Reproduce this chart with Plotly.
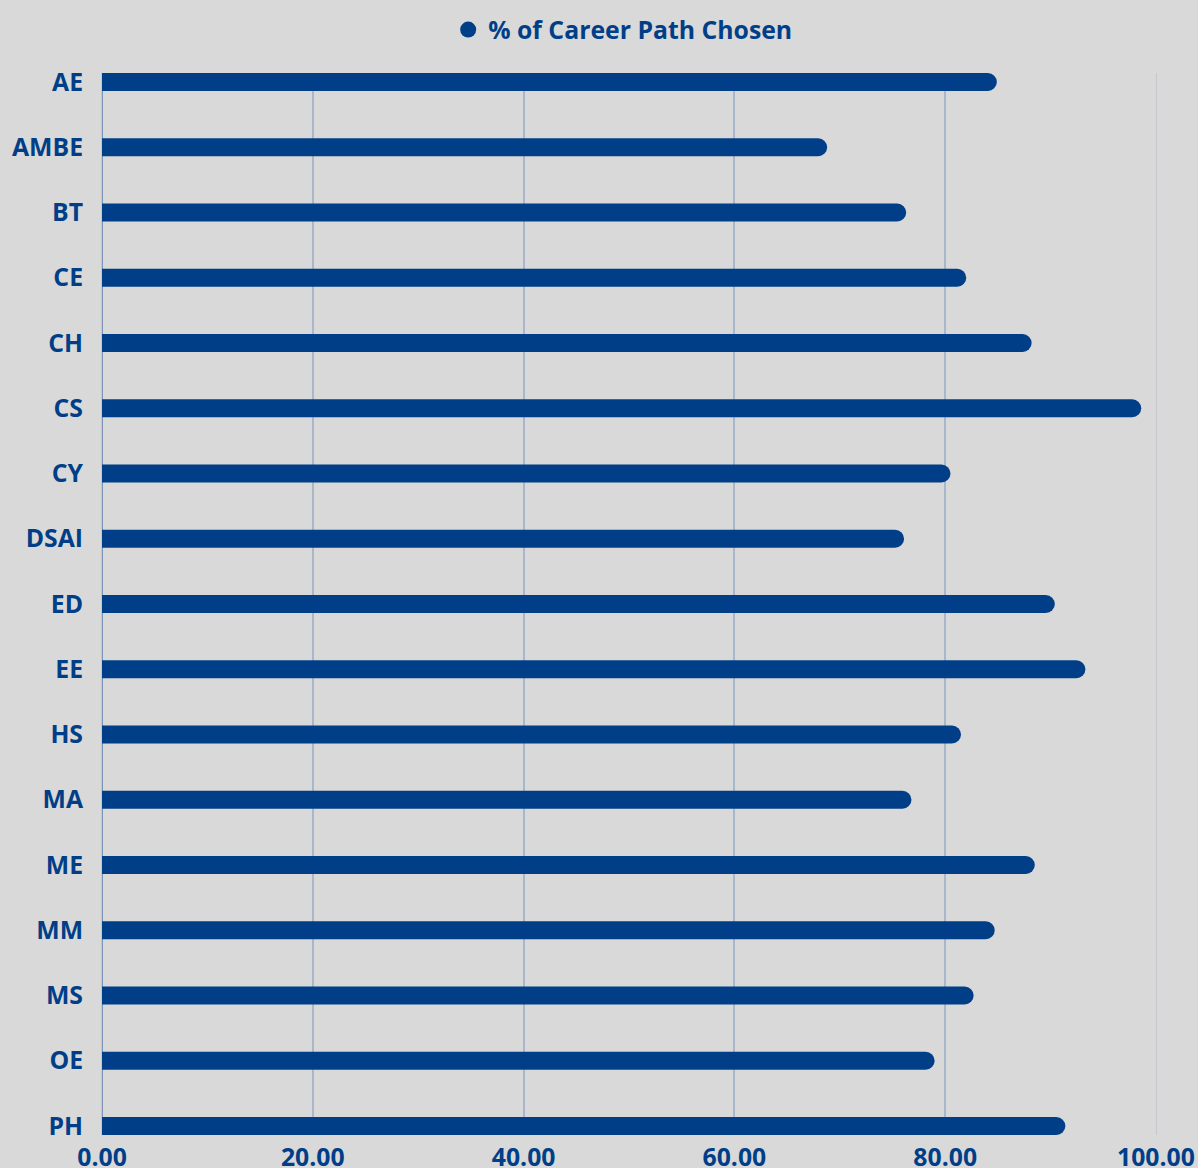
import plotly.graph_objects as go

categories = ["AE", "AMBE", "BT", "CE", "CH", "CS", "CY", "DSAI", "ED", "EE",
              "HS", "MA", "ME", "MM", "MS", "OE", "PH"]
values = [84.9, 68.8, 76.3, 82.0, 88.2, 98.6, 80.5, 76.1, 90.4, 93.3,
          81.5, 76.8, 88.5, 84.7, 82.7, 79.0, 91.4]
series_name = "% of Career Path Chosen"
x_ticks = [0, 20, 40, 60, 80, 100]
x_tick_labels = ["0.00", "20.00", "40.00", "60.00", "80.00", "100.00"]

BLUE = "#003f88"
BG = "#d9d9d9"
FONT = "Open Sans"
FS = 24.8

fig = go.Figure()
fig.add_trace(go.Bar(
    x=values, y=categories, orientation="h",
    marker=dict(color=BLUE, line=dict(width=0)),
    width=0.276, showlegend=False, name=series_name,
))
fig.add_trace(go.Scatter(
    x=[None], y=[None], mode="markers", name=series_name,
    marker=dict(color=BLUE, size=16, symbol="circle"),
    showlegend=True,
))

fig.update_layout(
    width=1198, height=1168,
    paper_bgcolor=BG, plot_bgcolor=BG,
    margin=dict(l=102, r=42, t=73, b=33, autoexpand=False),
    barcornerradius=9,
    font=dict(family=FONT, color=BLUE, size=FS, weight="bold"),
    legend=dict(orientation="h", x=0.494, xanchor="center", y=1.0405, yanchor="middle",
                font=dict(family=FONT, size=FS, color=BLUE, weight="bold"),
                bgcolor="rgba(0,0,0,0)", itemclick=False),
    showlegend=True,
)
fig.update_xaxes(
    range=[0, 100], tickvals=x_ticks, ticktext=x_tick_labels, automargin=False,
    showgrid=True, gridcolor="#a9b7ca", gridwidth=1.5,
    zeroline=True, zerolinecolor="#7f94b4", zerolinewidth=1.5,
    showline=False, ticks="", ticklabelstandoff=5,
    tickfont=dict(family=FONT, size=FS, color=BLUE, weight="bold"),
)
fig.update_yaxes(
    categoryorder="array", categoryarray=categories, autorange=False, automargin=False,
    range=[len(categories) - 1 + 0.138, -0.138],
    showgrid=False, zeroline=False, showline=True, mirror=True,
    linecolor="#c5c8cc", linewidth=1, ticks="",
    ticklabelstandoff=13,
    tickfont=dict(family=FONT, size=FS, color=BLUE, weight="bold"),
)

fig.write_html(
    "out.html",
    config={"displayModeBar": False},
    post_script="document.body.style.margin='0';document.body.style.overflow='hidden';",
)
